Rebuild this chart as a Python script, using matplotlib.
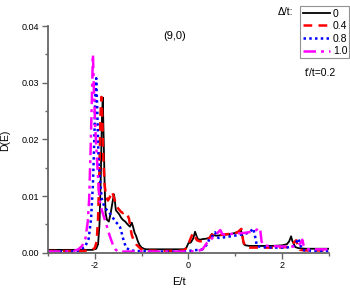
import matplotlib
matplotlib.use("Agg")
import matplotlib.pyplot as plt
from matplotlib.ticker import MultipleLocator

plt.rcParams['font.family'] = ['Liberation Sans', 'DejaVu Sans']

# Delta/t = 0
E0 = [-3.0, -2.3, -2.05, -1.97, -1.93, -1.90, -1.87, -1.85, -1.83, -1.81, -1.79, -1.77, -1.74, -1.70,
      -1.66, -1.62, -1.59, -1.57, -1.55, -1.52, -1.48, -1.44, -1.40, -1.35, -1.30, -1.25, -1.21, -1.18,
      -1.15, -1.12, -1.08, -1.04, -1.00, -0.95, -0.90, -0.5, -0.10, -0.05, 0.00, 0.05, 0.10, 0.14,
      0.17, 0.20, 0.25, 0.30, 0.40, 0.45, 0.50, 0.53, 0.60, 0.70, 0.80, 0.90, 1.00, 1.08, 1.12, 1.15,
      1.18, 1.22, 1.30, 1.50, 1.80, 2.00, 2.10, 2.15, 2.19, 2.22, 2.28, 2.35, 2.50, 2.80, 3.0]
D0 = [0.0005, 0.0005, 0.0005, 0.0007, 0.0015, 0.0050, 0.0140, 0.0230, 0.0274, 0.0200, 0.0120, 0.0070,
      0.0058, 0.0055, 0.0070, 0.0090, 0.0103, 0.0090, 0.0075, 0.0072, 0.0068, 0.0062, 0.0058, 0.0055,
      0.0050, 0.0046, 0.0053, 0.0045, 0.0035, 0.0030, 0.0020, 0.0013, 0.0009, 0.0007, 0.0006, 0.0006,
      0.0006, 0.0008, 0.0017, 0.0018, 0.0025, 0.0037, 0.0030, 0.0024, 0.0023, 0.0024, 0.0025, 0.0027,
      0.0033, 0.0031, 0.0030, 0.0031, 0.0032, 0.0033, 0.0035, 0.0037, 0.0040, 0.0030, 0.0015, 0.0013,
      0.0012, 0.0012, 0.0012, 0.0013, 0.0015, 0.0020, 0.0029, 0.0020, 0.0010, 0.0008, 0.0007, 0.0007,
      0.0007]

# Delta/t = 0.4
E1 = [-3.0, -2.3, -2.10, -2.00, -1.96, -1.93, -1.90, -1.88, -1.86, -1.84, -1.82, -1.79, -1.76, -1.72,
      -1.68, -1.65, -1.63, -1.60, -1.56, -1.52, -1.48, -1.44, -1.40, -1.36, -1.31, -1.27, -1.24, -1.21,
      -1.17, -1.12, -1.07, -1.02, -0.95, -0.5, -0.10, -0.02, 0.02, 0.06, 0.10, 0.13, 0.18, 0.25, 0.35,
      0.45, 0.50, 0.55, 0.65, 0.75, 0.85, 0.95, 1.05, 1.10, 1.13, 1.17, 1.22, 1.30, 1.60, 1.90, 2.10,
      2.20, 2.25, 2.30, 2.33, 2.38, 2.50, 2.80, 3.0]
D1 = [0.0003, 0.0003, 0.0004, 0.0008, 0.0020, 0.0060, 0.0150, 0.0240, 0.0275, 0.0240, 0.0170, 0.0120,
      0.0100, 0.0092, 0.0098, 0.0104, 0.0108, 0.0100, 0.0088, 0.0080, 0.0076, 0.0072, 0.0070, 0.0072,
      0.0068, 0.0060, 0.0045, 0.0031, 0.0022, 0.0015, 0.0011, 0.0007, 0.0004, 0.0003, 0.0004, 0.0010,
      0.0020, 0.0028, 0.0035, 0.0030, 0.0022, 0.0020, 0.0022, 0.0026, 0.0032, 0.0030, 0.0031, 0.0032,
      0.0033, 0.0034, 0.0036, 0.0040, 0.0042, 0.0020, 0.0010, 0.0009, 0.0009, 0.0009, 0.0010, 0.0013,
      0.0018, 0.0022, 0.0012, 0.0005, 0.0004, 0.0004, 0.0004]

# Delta/t = 0.8
E2 = [-3.0, -2.4, -2.21, -2.13, -2.08, -2.04, -2.01, -1.99, -1.97, -1.95, -1.92, -1.88, -1.85, -1.80,
      -1.75, -1.70, -1.65, -1.60, -1.55, -1.50, -1.46, -1.42, -1.38, -1.33, -1.25, -1.10,
      -0.8, -0.10, 0.00, 0.10, 0.20, 0.30, 0.40, 0.45, 0.52, 0.57, 0.60, 0.65, 0.75, 0.90, 1.05, 1.20,
      1.30, 1.35, 1.38, 1.42, 1.46, 1.55, 1.80, 2.10, 2.25, 2.30, 2.35, 2.38, 2.43, 2.50, 2.80, 3.0]
D2 = [0.0002, 0.0002, 0.0010, 0.0025, 0.0060, 0.0120, 0.0200, 0.0275, 0.0308, 0.0260, 0.0165, 0.0120,
      0.0095, 0.0082, 0.0076, 0.0072, 0.0066, 0.0060, 0.0054, 0.0050, 0.0045, 0.0033, 0.0020, 0.0009,
      0.0004, 0.0003, 0.0002, 0.0002, 0.0003, 0.0004, 0.0005, 0.0006, 0.0015, 0.0025,
      0.0030, 0.0036, 0.0028, 0.0026, 0.0027, 0.0029, 0.0031, 0.0033, 0.0036, 0.0040, 0.0043, 0.0030,
      0.0012, 0.0010, 0.0009, 0.0009, 0.0012, 0.0018, 0.0025, 0.0015, 0.0005, 0.0004, 0.0003, 0.0003]

# Delta/t = 1.0
E3 = [-3.0, -2.6, -2.45, -2.35, -2.27, -2.20, -2.15, -2.12, -2.09, -2.06, -2.04, -2.02, -1.99, -1.95,
      -1.90, -1.85, -1.80, -1.74, -1.69, -1.64, -1.60, -1.56, -1.52, -1.45, -1.3, -0.5,
      0.00, 0.20, 0.30, 0.35, 0.40, 0.45, 0.50, 0.55, 0.62, 0.68, 0.72, 0.78, 0.90, 1.05, 1.20, 1.35,
      1.45, 1.50, 1.53, 1.56, 1.60, 1.70, 2.00, 2.25, 2.35, 2.40, 2.43, 2.46, 2.52, 2.60, 2.80, 3.0]
D3 = [0.0002, 0.0002, 0.0003, 0.0006, 0.0012, 0.0025, 0.0055, 0.0095, 0.0180, 0.0280, 0.0350, 0.0290,
      0.0220, 0.0160, 0.0093, 0.0075, 0.0062, 0.0046, 0.0032, 0.0020, 0.0011, 0.0006, 0.0003, 0.0002,
      0.0002, 0.0002, 0.0002, 0.0003, 0.0006, 0.0012, 0.0018, 0.0022, 0.0025, 0.0030,
      0.0035, 0.0040, 0.0033, 0.0032, 0.0033, 0.0034, 0.0035, 0.0037, 0.0040, 0.0044, 0.0042, 0.0020,
      0.0013, 0.0012, 0.0011, 0.0011, 0.0013, 0.0018, 0.0023, 0.0012, 0.0006, 0.0006, 0.0006, 0.0006]

labels = ['0', '0.4', '0.8', '1.0']
colors = ['black', 'red', 'blue', 'magenta']

fig = plt.figure(figsize=(3.5, 2.93), dpi=100)
ax = fig.add_axes([0.137, 0.1375, 0.803, 0.7735])

ax.plot(E0, D0, color='black', lw=1.3, ls='-', label=labels[0])
ax.plot(E1, D1, color='red', lw=1.8, ls=(0, (3.5, 2.5)), label=labels[1])
ax.plot(E2, D2, color='blue', lw=1.8, ls=(0, (1, 1.3)), label=labels[2])
ax.plot(E3, D3, color='magenta', lw=1.8, ls=(0, (5, 2, 1.2, 2)), label=labels[3])

ax.set_xlim(-3, 3)
ax.set_ylim(0, 0.04)
ax.xaxis.set_minor_locator(MultipleLocator(1))
ax.yaxis.set_minor_locator(MultipleLocator(0.005))
ax.set_xticks([-2, 0, 2])
ax.set_xticklabels(['-2', '0', '2'])
ax.set_yticks([0.0, 0.01, 0.02, 0.03, 0.04])
ax.set_yticklabels(['0.00', '0.01', '0.02', '0.03', '0.04'])

for s in ['top', 'right']:
    ax.spines[s].set_visible(False)
for s in ['left', 'bottom']:
    ax.spines[s].set_color('#666666')
    ax.spines[s].set_linewidth(1.3)
ax.tick_params(which='both', direction='out', color='#666666', width=1.0, labelsize=6.5, pad=2)
ax.tick_params(which='major', length=4)
ax.tick_params(which='minor', length=2.5)

fig.text(0.51, 0.02, 'E/t', fontsize=8, ha='center', va='bottom')
fig.text(0.014, 0.52, 'D(E)', fontsize=7.5, rotation=90, ha='center', va='center')
fig.text(0.50, 0.877, '(9,0)', fontsize=8, ha='center', va='center')
fig.text(0.838, 0.958, 'Δ/t:', fontsize=7.5, ha='right', va='center')
fig.text(0.915, 0.752, "t'/t=0.2", fontsize=7.5, ha='center', va='center')

leg = fig.legend(loc='upper right', bbox_to_anchor=(0.998, 0.978), fontsize=7.5, frameon=True,
                 fancybox=False, edgecolor='#777777', handlelength=2.6, handletextpad=0.3,
                 labelspacing=0.25, borderpad=0.2, borderaxespad=0.0)
leg.get_frame().set_linewidth(0.8)

fig.savefig('out.png', dpi=100)
